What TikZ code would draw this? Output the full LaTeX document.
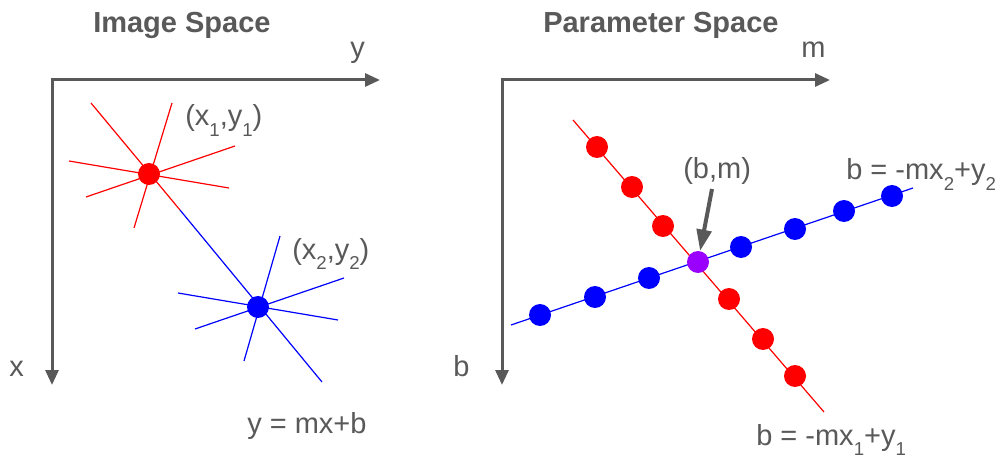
\documentclass[tikz,border=0pt]{standalone}
\usepackage{fontspec}
\setmainfont{Liberation Sans}
\usetikzlibrary{arrows.meta}
\definecolor{tgray}{HTML}{595959}
\definecolor{pred}{HTML}{FF0000}
\definecolor{pblue}{HTML}{0000FF}
\definecolor{ppurple}{HTML}{9900FF}
\newcommand{\sbs}[1]{\raisebox{-8pt}{\fontsize{14}{14}\selectfont #1}}
\begin{document}
\begin{tikzpicture}[x=0.75pt,y=-0.75pt,
  axis/.style={draw=tgray, line width=2.25pt, {Triangle[length=11.25pt,width=9.75pt]}-{Triangle[length=11.25pt,width=9.75pt]}},
  bmarrow/.style={draw=tgray, line width=3pt, -{Triangle[length=16pt,width=11pt]}},
  lbl/.style={text=tgray, font=\fontsize{21.75}{26}\selectfont, inner sep=0, anchor=base west},
  ttl/.style={lbl, font=\fontsize{21.75}{26}\selectfont\bfseries},
  dot/.style={circle, inner sep=0, minimum size=16.5pt},
  rdot/.style={dot, fill=pred},
  bdot/.style={dot, fill=pblue},
  pdot/.style={dot, fill=ppurple},
  rline/.style={draw=pred, line width=0.9pt},
  bline/.style={draw=pblue, line width=0.9pt}]
\useasboundingbox (0,0) rectangle (1001,460);

% titles
\node[ttl] (t1) at (93,33) {Image Space};
\node[ttl] (t2) at (543,33) {Parameter Space};

% ---------- Image space ----------
\coordinate (o1) at (52,80);
\coordinate (xe) at (52,385);
\coordinate (ye) at (380,80);
\draw[axis] (xe) -- (o1) -- (ye);
\node[lbl] (ylab) at (350,58) {y};
\node[lbl] (xlab) at (9,376) {x};

% red star lines
\coordinate (ra1) at (91,103);  \coordinate (ra2) at (180,210);
\coordinate (rb1) at (172,103); \coordinate (rb2) at (134,228);
\coordinate (rc1) at (69,161);  \coordinate (rc2) at (229,188);
\coordinate (rd1) at (86,197);  \coordinate (rd2) at (235,146);
\draw[rline] (ra1) -- (ra2);
\draw[rline] (rb1) -- (rb2);
\draw[rline] (rc1) -- (rc2);
\draw[rline] (rd1) -- (rd2);
% blue star lines
\coordinate (ba2) at (322,382);
\coordinate (bb1) at (280,236); \coordinate (bb2) at (244,361);
\coordinate (bc1) at (178,293); \coordinate (bc2) at (338,320);
\coordinate (bd1) at (195,329); \coordinate (bd2) at (344,278);
\draw[bline] (ra2) -- (ba2);
\draw[bline] (bb1) -- (bb2);
\draw[bline] (bc1) -- (bc2);
\draw[bline] (bd1) -- (bd2);

\node[rdot] (p1) at (149,174) {};
\node[bdot] (p2) at (258,307) {};

\node[lbl] (l1) at (185,126) {(x\sbs{1},y\sbs{1})};
\node[lbl] (l2) at (292,259) {(x\sbs{2},y\sbs{2})};
\node[lbl] (l3) at (247,433) {y = mx+b};

% ---------- Parameter space ----------
\coordinate (o2) at (502,80);
\coordinate (be) at (502,385);
\coordinate (me) at (830,80);
\draw[axis] (be) -- (o2) -- (me);
\node[lbl] (mlab) at (801,58) {m};
\node[lbl] (blab) at (453,376) {b};

\coordinate (rl1) at (573,120); \coordinate (rl2) at (824,412);
\coordinate (bl1) at (511,325); \coordinate (bl2) at (913,188);
\draw[rline] (rl1) -- (rl2);
\draw[bline] (bl1) -- (bl2);

\node[rdot] (r1) at (597,147) {};
\node[rdot] (r2) at (632,187) {};
\node[rdot] (r3) at (663,226) {};
\node[rdot] (r4) at (729,299) {};
\node[rdot] (r5) at (763,339) {};
\node[rdot] (r6) at (795,376) {};

\node[bdot] (b1) at (540,315) {};
\node[bdot] (b2) at (595,297) {};
\node[bdot] (b3) at (649,278) {};
\node[bdot] (b4) at (741,247) {};
\node[bdot] (b5) at (795,229) {};
\node[bdot] (b6) at (844,211) {};
\node[bdot] (b7) at (892,196) {};

\node[pdot] (pc) at (698,262) {};

\node[lbl] (bm) at (683,179) {(b,m)};
\coordinate (as) at (712,189);
\draw[bmarrow] (as) -- (pc);

\node[lbl] (e2) at (846,180) {b = -mx\sbs{2}+y\sbs{2}};
\node[lbl] (e1) at (756,445) {b = -mx\sbs{1}+y\sbs{1}};
\end{tikzpicture}
\end{document}
